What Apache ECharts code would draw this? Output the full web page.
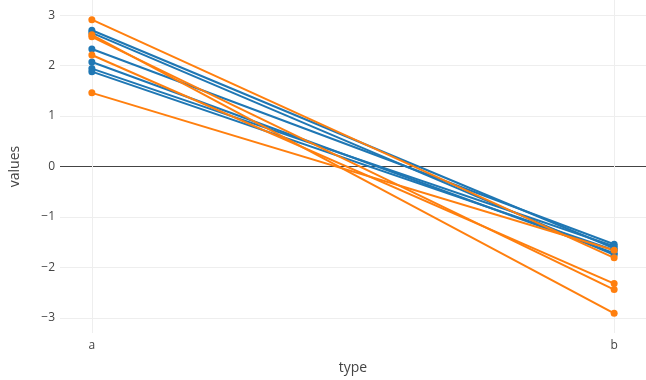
<!DOCTYPE html>
<html>
<head>
<meta charset="utf-8">
<script src="https://cdn.jsdelivr.net/npm/echarts@6/dist/echarts.min.js"></script>
<style>html,body{margin:0;padding:0;background:#fff;}#c{width:646px;height:380px;}</style>
</head>
<body>
<div id="c"></div>
<script>
var categories = ['a', 'b'];
var yTicks = [-3, -2, -1, 0, 1, 2, 3];
var blueA = [2.70, 2.65, 2.33, 2.07, 1.94, 1.88];
var blueB = [-1.62, -1.75, -1.54, -1.72, -1.58, -1.66];
var orangeA = [2.91, 2.61, 2.57, 2.21, 1.46];
var orangeB = [-1.81, -2.91, -2.44, -2.32, -1.66];

var series = [];
function addPairs(A, B, color) {
  for (var i = 0; i < A.length; i++) {
    series.push({
      type: 'line',
      data: [[0, A[i]], [1, B[i]]],
      symbol: 'circle',
      symbolSize: 7,
      lineStyle: { color: color, width: 2 },
      itemStyle: { color: color },
      z: 3
    });
  }
}
addPairs(blueA, blueB, '#1f77b4');
addPairs(orangeA, orangeB, '#ff7f0e');

var font = '"Open Sans", sans-serif';
var chart = echarts.init(document.getElementById('c'), null, { renderer: 'canvas' });
chart.setOption({
  animation: false,
  backgroundColor: '#fff',
  grid: { left: 59, right: -1, top: 0, bottom: 47, containLabel: false },
  xAxis: {
    type: 'value',
    min: -0.061, max: 1.061,
    name: 'type', nameLocation: 'middle', nameGap: 28,
    nameTextStyle: { fontFamily: font, fontSize: 14, color: '#444' },
    axisLine: { show: false },
    axisTick: { show: false, customValues: [0, 1] },
    axisLabel: {
      customValues: [0, 1],
      formatter: function (v) { return categories[Math.round(v)]; },
      fontFamily: font, fontSize: 12, color: '#444', margin: 7
    },
    splitLine: { show: true, lineStyle: { color: '#eeeeee', width: 1 } }
  },
  yAxis: {
    type: 'value',
    min: -3.3, max: 3.3,
    name: 'values', nameLocation: 'middle', nameGap: 38,
    nameTextStyle: { fontFamily: font, fontSize: 14, color: '#444' },
    axisLine: { show: false },
    axisTick: { show: false, customValues: yTicks },
    axisLabel: {
      customValues: yTicks,
      formatter: function (v) { return String(v).replace('-', '\u2212'); },
      fontFamily: font, fontSize: 12, color: '#444', margin: 5
    },
    splitLine: { show: true, lineStyle: { color: ['#eeeeee', '#eeeeee', '#eeeeee', '#444444', '#eeeeee', '#eeeeee', '#eeeeee'], width: 1 } }
  },
  series: series
});
</script>
</body>
</html>
